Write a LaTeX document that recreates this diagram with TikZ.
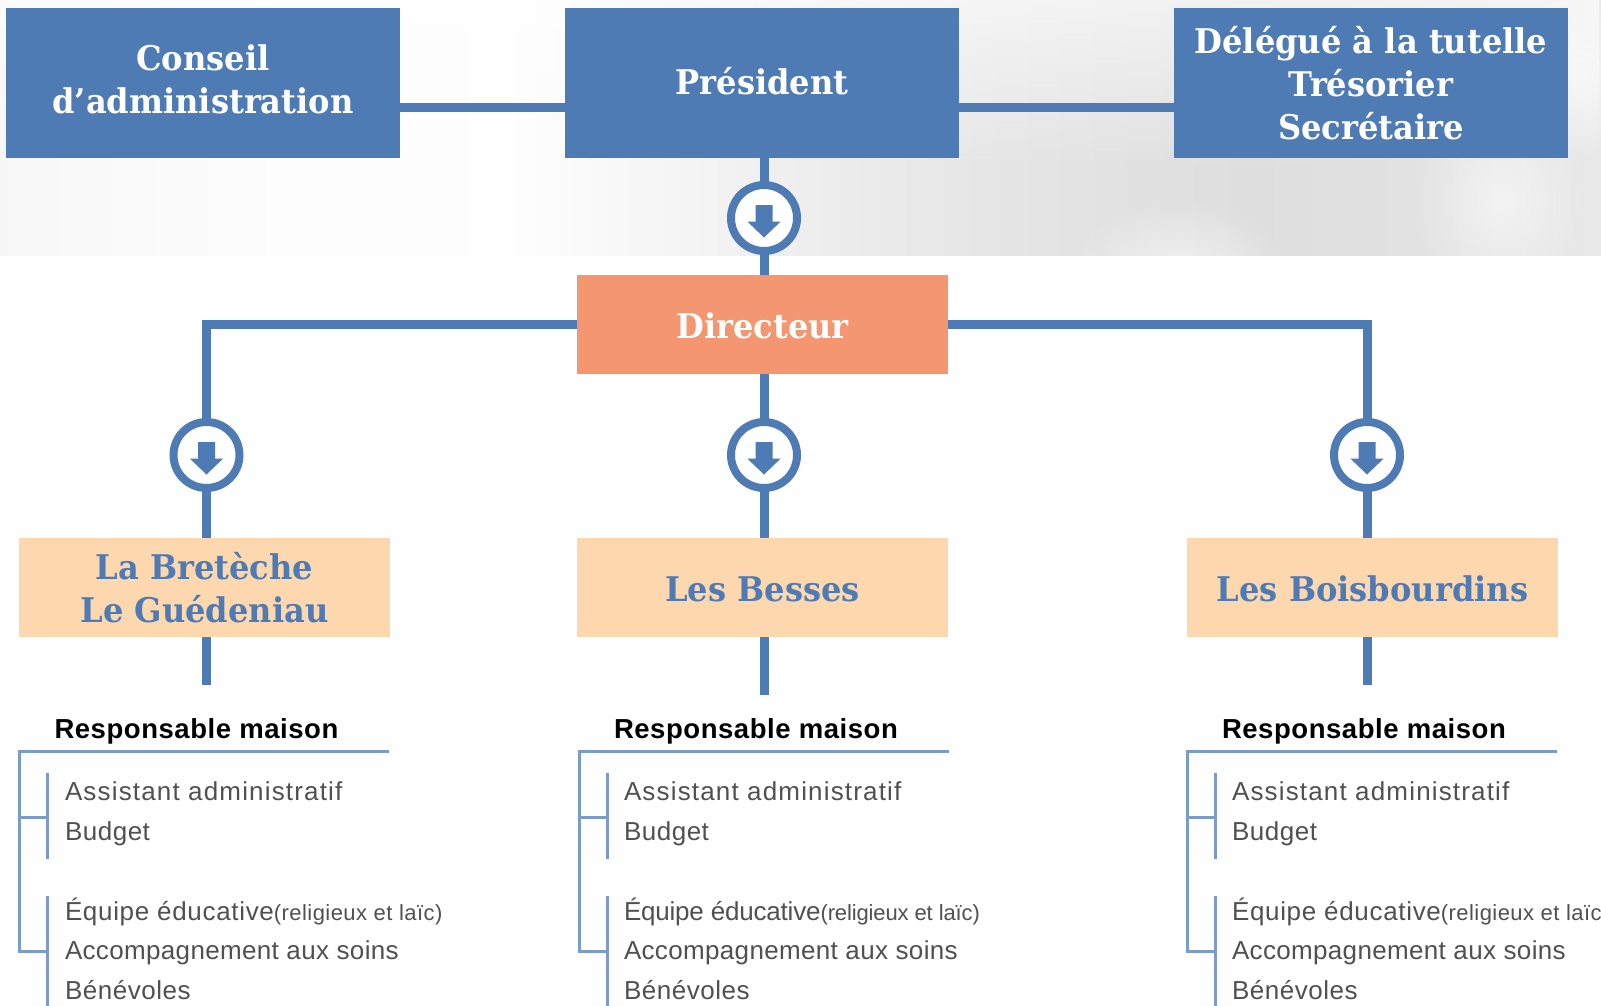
\documentclass[tikz,border=0pt]{standalone}
\usepackage{fontspec}
\usetikzlibrary{fadings,calc}
\newfontfamily\slabfont[FakeStretch=1.05]{DejaVu Serif Condensed}
\newfontfamily\bodyfont[LetterSpace=2.0]{Liberation Sans}
\definecolor{mainblue}{HTML}{4F7BB5}
\definecolor{listblue}{HTML}{7A9CCC}
\definecolor{dirorange}{HTML}{F49670}
\definecolor{peach}{HTML}{FDD7AE}
\definecolor{bodygrey}{HTML}{505050}
\pgfdeclarehorizontalshading{skyshade}{100bp}{
 color(0bp)=(white!97!black);
 color(25bp)=(white!97!black);
 color(33bp)=(white!99!black);
 color(41bp)=(white!99.5!black);
 color(49bp)=(white!94!black);
 color(56bp)=(white!90!black);
 color(64bp)=(white!87!black);
 color(70bp)=(white!89!black);
 color(75bp)=(white!91!black);
 color(100bp)=(white!91!black)}
\tikzfading[name=fadetop,top color=transparent!40,bottom color=transparent!100]
\tikzfading[name=blob,inner color=transparent!45,outer color=transparent!100]
\tikzset{
 x=1pt,y=-1pt,
 basebox/.style={inner sep=0pt,outer sep=0pt,align=center,font=\slabfont\bfseries\fontsize{34}{43}\selectfont},
 topbox/.style={basebox,fill=mainblue,text=white,minimum width=394pt,minimum height=150pt},
 dirbox/.style={basebox,fill=dirorange,text=white,minimum width=371pt,minimum height=99pt},
 housebox/.style={basebox,fill=peach,text=mainblue,minimum width=371pt,minimum height=99pt},
 ring/.style={circle,draw=mainblue,line width=8pt,fill=white,minimum size=66pt,inner sep=0pt,outer sep=0pt},
 thick link/.style={draw=mainblue,line width=9pt},
 thin link/.style={draw=listblue,line width=3pt},
 headtext/.style={anchor=base west,inner sep=0pt,outer sep=0pt,text=black,font=\bodyfont\bfseries\fontsize{27.5}{30}\selectfont},
 listtext/.style={anchor=base west,inner sep=0pt,outer sep=0pt,text=bodygrey,font=\bodyfont\fontsize{26}{30}\selectfont},
}
\newcommand{\downmark}[1]{\fill[mainblue,shift={(#1.center)}] (-8.5,-13) -- (8.5,-13) -- (8.5,3.7) -- (16.5,3.7) -- (0,19.5) -- (-16.5,3.7) -- (-8.5,3.7) -- cycle;}
% #1 prefix, #2 line x offset, #3 right end of rule, #4 heading x, #5 text x, #6 and #7 letter spacing of the Équipe line
\newcommand{\housecol}[7]{%
 \node[headtext] (#1h) at (#4,738) {Responsable maison};
 \node[listtext] (#1a) at (#5,800) {\addfontfeature{LetterSpace=4.5}Assistant administratif};
 \node[listtext] (#1b) at (#5,840) {Budget};
 \node[listtext] (#1c) at (#5,920) {{\addfontfeature{LetterSpace=#6}Équipe éducative}{\fontsize{22}{30}\selectfont\addfontfeature{LetterSpace=#7}(religieux et laïc)}};
 \node[listtext] (#1d) at (#5,959) {\addfontfeature{LetterSpace=1.3}Accompagnement aux soins};
 \node[listtext] (#1e) at (#5,999.5) {Bénévoles};
 \coordinate (#1r0) at (#2,751);
 \coordinate (#1r1) at (#3,751);
 \coordinate (#1s) at (#2,951);
 \coordinate (#1m1) at (#2,817);
 \coordinate (#1m2) at (#2+28,817);
 \coordinate (#1n2) at (#2+28,951);
 \coordinate (#1t1) at (#2+28,773);
 \coordinate (#1t2) at (#2+28,859);
 \coordinate (#1u1) at (#2+28,896);
 \coordinate (#1u2) at (#2+28,1010);
 \draw[thin link] (#1r1) -- (#1r0) -- (#1s) -- (#1n2);
 \draw[thin link] (#1m1) -- (#1m2);
 \draw[thin link] (#1t1) -- (#1t2);
 \draw[thin link] (#1u1) -- (#1u2);
}
\begin{document}
\begin{tikzpicture}
\useasboundingbox (0,0) rectangle (1601,1005);
\clip (0,0) rectangle (1601,1005);
% sky band
\fill[white] (0,0) rectangle (1601,1005);
\shade[shading=skyshade] (0,0) rectangle (1601,255);
\fill[white,path fading=fadetop] (0,0) rectangle (1601,170);
\begin{scope}
\clip (0,0) rectangle (1601,255);
\fill[white,path fading=blob] (1180,270) ellipse (110 and 70);
\fill[white,path fading=blob] (1500,200) ellipse (90 and 110);
\fill[white,path fading=blob] (1580,70) ellipse (70 and 90);
\end{scope}
% boxes
\node[topbox,text height=60pt,text depth=0pt] (cons) at (203,83) {Conseil\\d’administration};
\node[topbox,text height=23pt,text depth=0pt] (pres) at (762,83) {Président};
\node[topbox] (dele) at (1371,83) {Délégué à la tutelle\\Trésorier\\Secrétaire};
\node[dirbox,text height=27pt,text depth=0pt] (dir) at (762.5,324.5) {Directeur};
\node[housebox] (bret) at (204.5,587.5) {La Bretèche\\Le Guédeniau};
\node[housebox,text height=28pt,text depth=0pt] (bess) at (762.5,587.5) {Les Besses};
\node[housebox,text height=28pt,text depth=0pt] (bois) at (1372.5,587.5) {Les Boisbourdins};
\node[ring] (c0) at (764,218) {};
\node[ring] (c1) at (206.5,455) {};
\node[ring] (c2) at (764,455) {};
\node[ring] (c3) at (1367,455) {};
\coordinate (toprow) at (0,107.5);
\coordinate (dirrow) at (0,324);
\coordinate (e1) at (206.5,685);
\coordinate (e2) at (764,695);
\coordinate (e3) at (1367,685);
% connectors
\draw[thick link] (cons.east |- toprow) -- (pres.west |- toprow);
\draw[thick link] (pres.east |- toprow) -- (dele.west |- toprow);
\draw[thick link] (c0 |- pres.south) -- (c0.north);
\draw[thick link] (c0.south) -- (c0 |- dir.north);
\draw[thick link] (dir.west |- dirrow) -| (c1.north);
\draw[thick link] (dir.east |- dirrow) -| (c3.north);
\draw[thick link] (c2 |- dir.south) -- (c2.north);
\draw[thick link] (c1.south) -- (c1 |- bret.north);
\draw[thick link] (c2.south) -- (c2 |- bess.north);
\draw[thick link] (c3.south) -- (c3 |- bois.north);
\draw[thick link] (c1 |- bret.south) -- (e1);
\draw[thick link] (c2 |- bess.south) -- (e2);
\draw[thick link] (c3 |- bois.south) -- (e3);
\downmark{c0}\downmark{c1}\downmark{c2}\downmark{c3}
% lists
\housecol{l}{19.5}{389}{54.5}{65}{2.6}{2.0}
\housecol{m}{579}{948.5}{614}{624}{-0.8}{-0.6}
\housecol{r}{1187}{1557}{1222}{1232}{2.6}{2.0}
\end{tikzpicture}
\end{document}
